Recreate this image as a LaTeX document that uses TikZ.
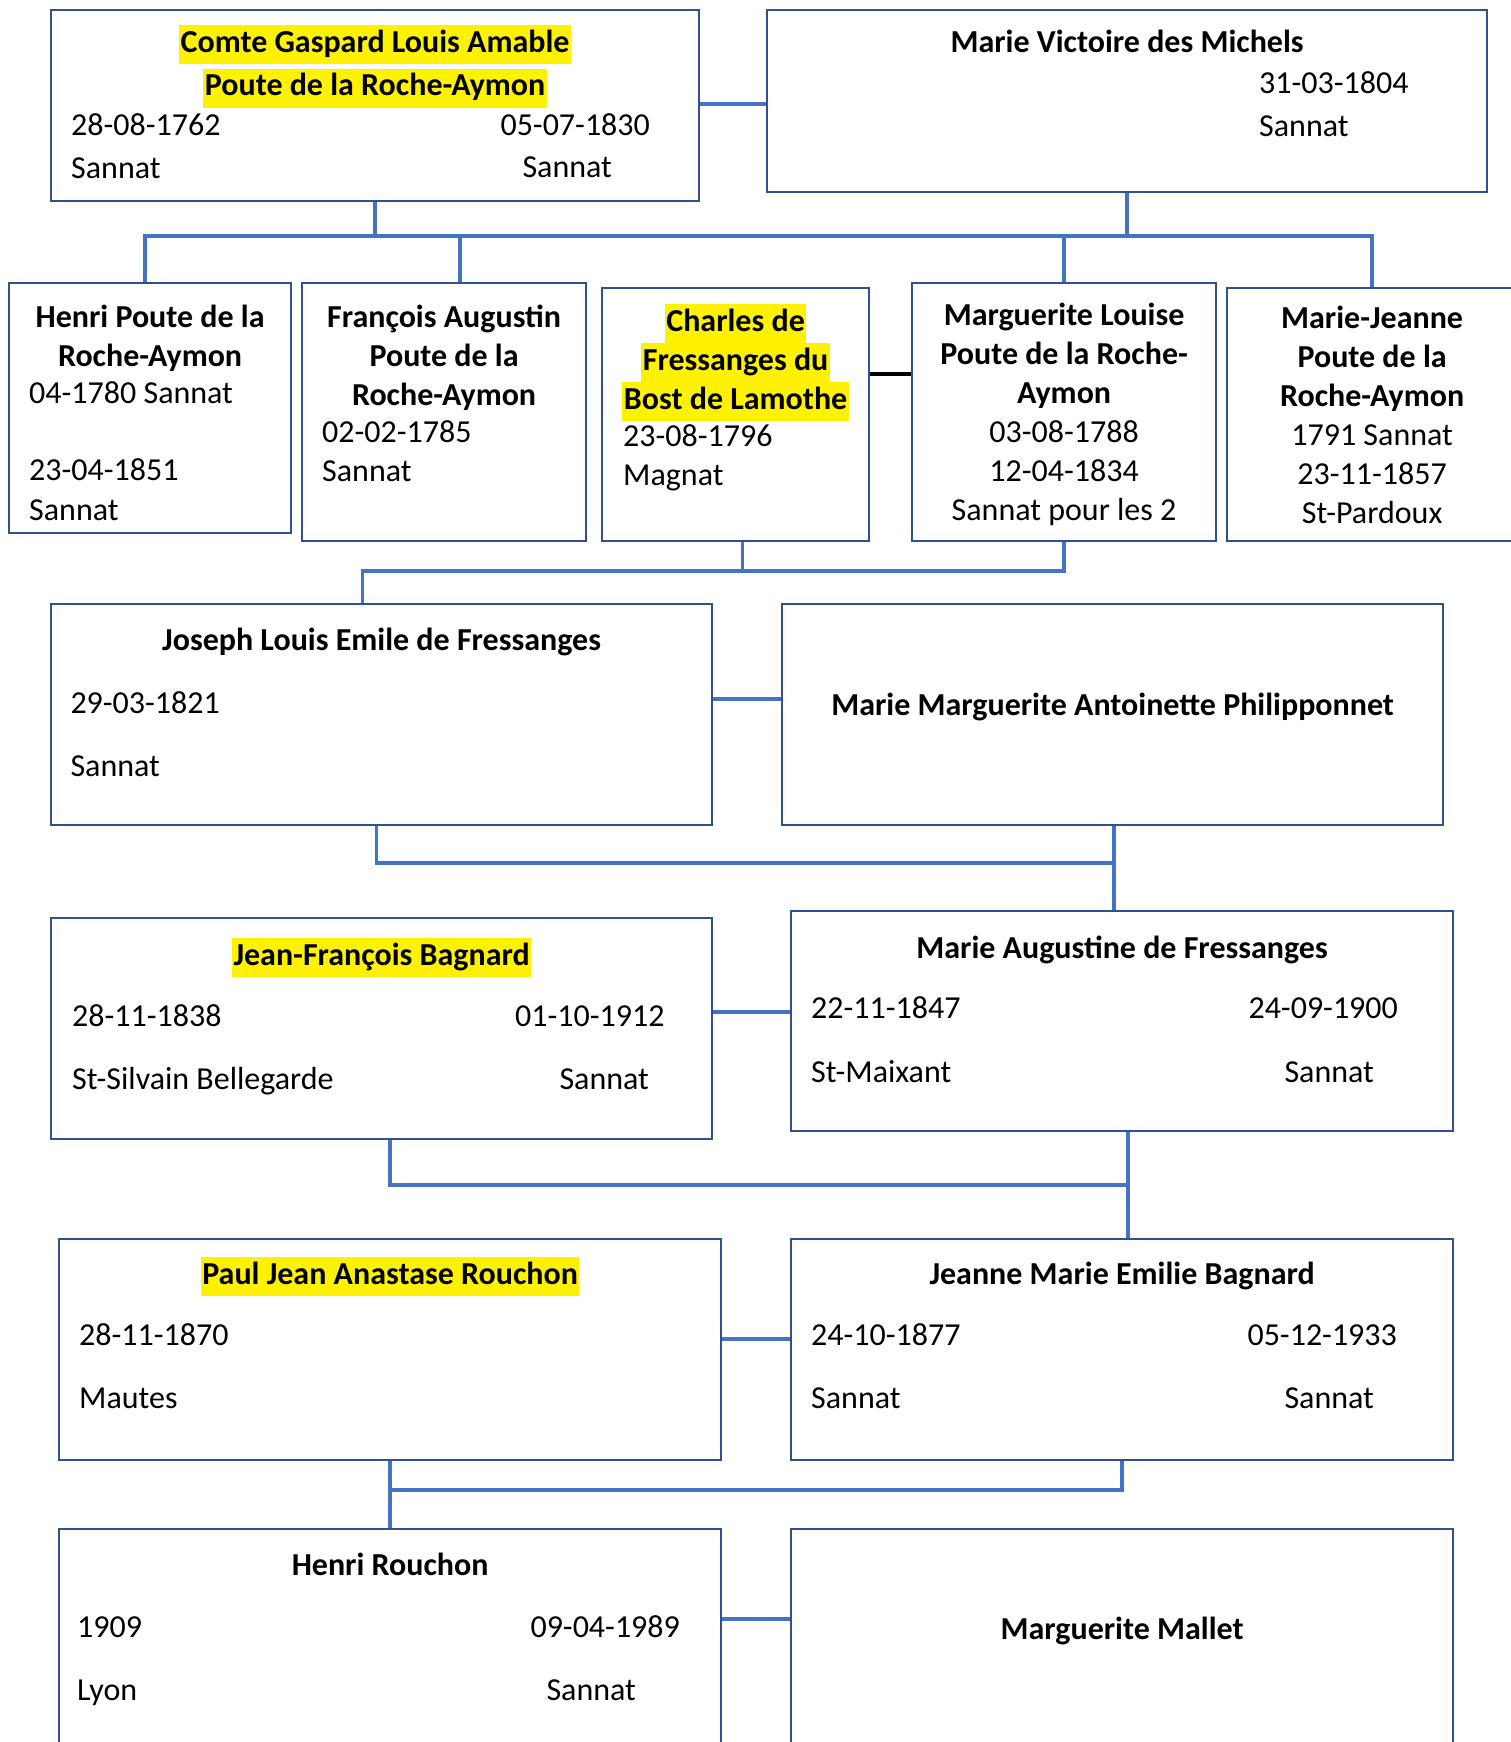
\documentclass[tikz,border=0pt]{standalone}
\usepackage{fontspec}
\setmainfont{Carlito}
\usetikzlibrary{positioning}
\definecolor{boxblue}{HTML}{2F528F}
\definecolor{linkblue}{HTML}{4472C4}
\newcommand{\famfont}{\fontsize{32}{39}\selectfont}
\newcommand{\hl}[1]{{\fboxsep=0pt\colorbox{yellow}{\kern1.5pt\strut#1\kern1.5pt}}}

\begin{document}
\begin{tikzpicture}[x=1pt,y=-1pt,
	person/.style={draw=boxblue,line width=2.2pt,anchor=north west,inner sep=0pt},
	who/.style={font=\famfont\bfseries,align=center,inner sep=0pt,yshift=-2pt,execute at begin node=\strut},
	dates/.style={font=\famfont,align=left,inner sep=0pt,execute at begin node=\strut},
	link/.style={draw=linkblue,line width=3.3pt}]
	\useasboundingbox (0,0) rectangle (1510,1742);
	% levels of the marriage lines and of the bars to the children
	\coordinate (wed0) at (0,104);  \coordinate (kids0) at (0,236);
	\coordinate (wed1) at (0,374);  \coordinate (kids1) at (0,571);
	\coordinate (wed2) at (0,699);  \coordinate (kids2) at (0,863);
	\coordinate (wed3) at (0,1012); \coordinate (kids3) at (0,1185);
	\coordinate (wed4) at (0,1339); \coordinate (kids4) at (0,1490);
	\coordinate (wed5) at (0,1619);

	% first couple
	\node[person,minimum width=648pt,minimum height=191pt] (gaspard) at (50,9) {};
		\node[who,below=14pt of gaspard.north] (gaspardname) {\hl{Comte Gaspard Louis Amable}\\[4.5pt]\hl{Poute de la Roche-Aymon}};
		\node[dates,below right=99pt and 21pt of gaspard.north west] (gaspardbirth) {\strut 28-08-1762\\[3.5pt]Sannat};
		\node[dates,below=99pt of gaspard.north east,xshift=-125pt] (gaspardd) {05-07-1830};
		\node[dates,below=141pt of gaspard.north east,xshift=-133pt] (gaspardp) {Sannat};
	\node[person,minimum width=720pt,minimum height=182pt] (victoire) at (766,9) {};
		\node[who,below=14pt of victoire.north] (victoirename) {Marie Victoire des Michels};
		\node[dates,below right=57pt and 493pt of victoire.north west] (victoiredeath) {\strut 31-03-1804\\[3.7pt]Sannat};
			\draw[link] (gaspard.east |- wed0) -- (victoire.west |- wed0);

	% their children
	\node[person,minimum width=282pt,minimum height=250pt] (henri) at (8,282) {};
		\node[who,below=15.7pt of henri.north] (henriname) {\strut Henri Poute de la\\Roche-Aymon};
		\node[dates,below right=93.7pt and 21pt of henri.north west] (henridates) {\strut 04-1780 Sannat\\[38pt]23-04-1851\\[1pt]Sannat};
	\node[person,minimum width=284pt,minimum height=258pt] (francois) at (301,282) {};
		\node[who,below=15.7pt of francois.north] (francoisname) {\strut François Augustin\\Poute de la\\Roche-Aymon};
		\node[dates,below right=132.7pt and 21pt of francois.north west] (francoisdates) {\strut 02-02-1785\\Sannat};
	\node[person,minimum width=267pt,minimum height=253pt] (charles) at (601,287) {};
		\node[who,below=14.7pt of charles.north] (charlesname) {\hl{Charles de}\\\hl{Fressanges du}\\\hl{Bost de Lamothe}};
		\node[dates,below right=132pt and 22pt of charles.north west] (charlesdates) {\strut 23-08-1796\\Magnat};
	\node[person,minimum width=304pt,minimum height=258pt] (marguerite) at (911,282) {};
		\node[who,below=13.7pt of marguerite.north] (margueritename) {\strut Marguerite Louise\\Poute de la Roche-\\Aymon\\\textmd{03-08-1788}\\\textmd{12-04-1834}\\\textmd{Sannat pour les 2}};
	\node[person,minimum width=290pt,minimum height=253pt] (mariejeanne) at (1226,287) {};
		\node[who,below=12.3pt of mariejeanne.north] (mariejeannename) {\strut Marie-Jeanne\\Poute de la\\Roche-Aymon\\\textmd{1791 Sannat}\\\textmd{23-11-1857}\\\textmd{St-Pardoux}};
			\draw[link] (gaspard.south) -- (gaspard.south |- kids0);
			\draw[link] (victoire.south) -- (victoire.south |- kids0);
			\coordinate (henriup) at ([xshift=-5pt]henri.north);
			\coordinate (francoisup) at ([xshift=16pt]francois.north);
			\draw[link] (henriup) -- (henriup |- kids0) -- (mariejeanne.north |- kids0) -- (mariejeanne.north);
			\draw[link] (francoisup) -- (francoisup |- kids0);
			\draw[link] (marguerite.north) -- (marguerite.north |- kids0);
			\draw[link,draw=black,line width=3.5pt] (charles.east |- wed1) -- (marguerite.west |- wed1);

	% second couple
	\node[person,minimum width=661pt,minimum height=221pt] (joseph) at (50,603) {};
		\node[who,below=17.7pt of joseph.north] (josephname) {Joseph Louis Emile de Fressanges};
		\node[dates,below right=82.7pt and 20.3pt of joseph.north west] (josephdates) {\strut 29-03-1821\\[24pt]Sannat};
	\node[person,minimum width=661pt,minimum height=221pt] (philipponnet) at (781,603) {};
		\node[who,below=82.7pt of philipponnet.north] (philipponnetname) {Marie Marguerite Antoinette Philipponnet};
			\coordinate (charlesdown) at ([xshift=7pt]charles.south);
			\coordinate (josephup) at ([xshift=-19pt]joseph.north);
			\draw[link] (charlesdown) -- (charlesdown |- kids1);
			\draw[link] (marguerite.south) -- (marguerite.south |- kids1) -- (josephup |- kids1) -- (josephup);
			\draw[link] (joseph.east |- wed2) -- (philipponnet.west |- wed2);

	% third couple
	\node[person,minimum width=661pt,minimum height=221pt] (bagnard) at (50,917) {};
		\node[who,below=18.7pt of bagnard.north] (bagnardname) {\hl{Jean-François Bagnard}};
		\node[dates,below right=82.2pt and 22pt of bagnard.north west] (bagnardbirth) {\strut 28-11-1838\\[24pt]St-Silvain Bellegarde};
		\node[dates,below=82.2pt of bagnard.north east,xshift=-123.4pt] (bagnardd) {01-10-1912};
		\node[dates,below=145pt of bagnard.north east,xshift=-109pt] (bagnardp) {Sannat};
	\node[person,minimum width=662pt,minimum height=220pt] (augustine) at (790,910) {};
		\node[who,below=19.4pt of augustine.north] (augustinename) {Marie Augustine de Fressanges};
		\node[dates,below right=80.7pt and 21pt of augustine.north west] (augustinebirth) {\strut 22-11-1847\\[25pt]St-Maixant};
		\node[dates,below=80.7pt of augustine.north east,xshift=-131pt] (augustined) {24-09-1900};
		\node[dates,below=144.7pt of augustine.north east,xshift=-125pt] (augustinep) {Sannat};
			\coordinate (josephdown) at ([xshift=-5pt]joseph.south);
			\coordinate (augustineup) at ([xshift=-8pt]augustine.north);
			\draw[link] (josephdown) -- (josephdown |- kids2) -- (augustineup |- kids2);
			\draw[link] (augustineup |- philipponnet.south) -- (augustineup);
			\draw[link] (bagnard.east |- wed3) -- (augustine.west |- wed3);

	% fourth couple
	\node[person,minimum width=662pt,minimum height=221pt] (paul) at (58,1238) {};
		\node[who,below=16.7pt of paul.north] (paulname) {\hl{Paul Jean Anastase Rouchon}};
		\node[dates,below right=79.7pt and 21pt of paul.north west] (paulbirth) {\strut 28-11-1870\\[24.6pt]Mautes};
	\node[person,minimum width=662pt,minimum height=221pt] (jeanne) at (790,1238) {};
		\node[who,below=16.7pt of jeanne.north] (jeannename) {Jeanne Marie Emilie Bagnard};
		\node[dates,below right=79.7pt and 21pt of jeanne.north west] (jeannebirth) {\strut 24-10-1877\\[24.6pt]Sannat};
		\node[dates,below=79.7pt of jeanne.north east,xshift=-132pt] (jeanned) {05-12-1933};
		\node[dates,below=143.3pt of jeanne.north east,xshift=-125pt] (jeannep) {Sannat};
			\coordinate (bagnarddown) at ([xshift=8.5pt]bagnard.south);
			\coordinate (jeanneup) at ([xshift=6pt]jeanne.north);
			\draw[link] (bagnarddown) -- (bagnarddown |- kids3) -- (jeanneup |- kids3);
			\draw[link] (jeanneup |- augustine.south) -- (jeanneup);
			\draw[link] (paul.east |- wed4) -- (jeanne.west |- wed4);

	% last couple
	\node[person,minimum width=662pt,minimum height=262pt] (rouchon) at (58,1528) {};
		\node[who,below=17.7pt of rouchon.north] (rouchonname) {Henri Rouchon};
		\node[dates,below right=81.7pt and 19pt of rouchon.north west] (rouchonbirth) {\strut 1909\\[24pt]Lyon};
		\node[dates,below=81.7pt of rouchon.north east,xshift=-117pt] (rouchond) {09-04-1989};
		\node[dates,below=144.7pt of rouchon.north east,xshift=-131pt] (rouchonp) {Sannat};
	\node[person,minimum width=662pt,minimum height=262pt] (mallet) at (790,1528) {};
		\node[who,below=81.7pt of mallet.north] (malletname) {Marguerite Mallet};
			\draw[link] (jeanne.south) -- (jeanne.south |- kids4) -- (rouchon.north |- kids4);
			\draw[link] (paul.south) -- (rouchon.north);
			\draw[link] (rouchon.east |- wed5) -- (mallet.west |- wed5);
\end{tikzpicture}
\end{document}
